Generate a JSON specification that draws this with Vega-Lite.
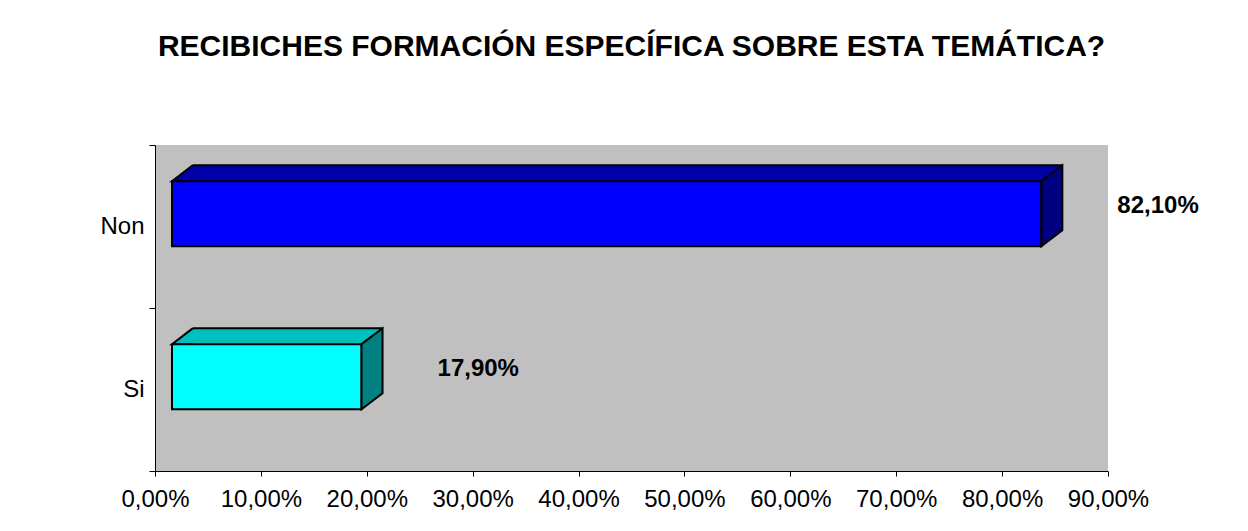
{
  "$schema": "https://vega.github.io/schema/vega-lite/v6.json",
  "autosize": "none",
  "width": 953,
  "height": 326,
  "padding": {"left": 155, "top": 145, "right": 140, "bottom": 60},
  "background": "white",
  "title": {
    "text": "RECIBICHES FORMACIÓN ESPECÍFICA SOBRE ESTA TEMÁTICA?",
    "anchor": "middle",
    "frame": "group",
    "baseline": "alphabetic",
    "offset": 47,
    "font": "Liberation Sans",
    "fontSize": 30,
    "fontWeight": "bold",
    "color": "black"
  },
  "data": {"values": [
    {"cat": "Non", "value": 0.821},
    {"cat": "Si", "value": 0.179}
  ]},
  "layer": [
    {
      "mark": {"type": "bar", "height": {"band": 0.4}, "xOffset": 38, "x2Offset": 38, "yOffset": -28.75},
      "encoding": {
        "x": {"field": "value", "type": "quantitative",
          "scale": {"domain": [0, 0.9], "nice": false, "zero": true},
          "axis": {"values": [0, 0.1, 0.2, 0.3, 0.4, 0.5, 0.6, 0.7, 0.8, 0.9], "format": ".2%", "title": null, "grid": false,
            "tickSize": 5, "labelPadding": 11, "labelFontSize": 24, "labelFont": "Liberation Sans", "labelColor": "black",
            "domainColor": "black", "tickColor": "black", "labelFlush": false, "labelOverlap": false}},
        "y": {"field": "cat", "type": "nominal",
          "scale": {"domain": ["Non", "Si"], "paddingInner": 0, "paddingOuter": 0},
          "axis": {"title": null, "tickBand": "extent", "tickSize": 6, "labelPadding": 5, "labelFontSize": 24,
            "labelFont": "Liberation Sans", "labelColor": "black", "domainColor": "black", "tickColor": "black", "grid": false}},
        "fill": {"field": "cat", "type": "nominal", "scale": {"domain": ["Non", "Si"], "range": ["#0000AA", "#00BFBF"]}, "legend": null}
      }
    },
    {
      "mark": {"type": "rule", "stroke": "black", "strokeWidth": 2, "xOffset": 38, "x2Offset": 38, "yOffset": -61.35},
      "encoding": {
        "x": {"field": "value", "type": "quantitative"},
        "x2": {"datum": 0},
        "y": {"field": "cat", "type": "nominal"}
      }
    },
    {
      "mark": {"type": "point", "shape": "M21,0L0,0L21,-16", "size": 4, "filled": true, "opacity": 1,
        "stroke": "black", "strokeWidth": 2, "xOffset": 17, "yOffset": -45.35},
      "encoding": {
        "x": {"datum": 0, "type": "quantitative"},
        "y": {"field": "cat", "type": "nominal"},
        "fill": {"field": "cat", "type": "nominal", "scale": {"domain": ["Non", "Si"], "range": ["#0000AA", "#00BFBF"]}, "legend": null}
      }
    },
    {
      "mark": {"type": "bar", "height": {"band": 0.4}, "xOffset": 17, "x2Offset": 17, "yOffset": -12.75,
        "stroke": "black", "strokeWidth": 2},
      "encoding": {
        "x": {"field": "value", "type": "quantitative"},
        "y": {"field": "cat", "type": "nominal"},
        "fill": {"field": "cat", "type": "nominal", "scale": {"domain": ["Non", "Si"], "range": ["#0000FF", "#00FFFF"]}, "legend": null}
      }
    },
    {
      "mark": {"type": "point", "shape": "M0,0L21,-16L21,49.2L0,65.2Z", "size": 4, "filled": true, "opacity": 1,
        "stroke": "black", "strokeWidth": 2, "xOffset": 17, "yOffset": -45.35},
      "encoding": {
        "x": {"field": "value", "type": "quantitative"},
        "y": {"field": "cat", "type": "nominal"},
        "fill": {"field": "cat", "type": "nominal", "scale": {"domain": ["Non", "Si"], "range": ["#000080", "#008080"]}, "legend": null}
      }
    },
    {
      "mark": {"type": "text", "align": "left", "baseline": "middle", "xOffset": 93, "yOffset": -21,
        "font": "Liberation Sans", "fontSize": 24, "fontWeight": "bold", "color": "black"},
      "encoding": {
        "x": {"field": "value", "type": "quantitative"},
        "y": {"field": "cat", "type": "nominal"},
        "text": {"field": "value", "type": "quantitative", "format": ".2%"}
      }
    }
  ],
  "resolve": {"scale": {"fill": "independent"}},
  "config": {
    "locale": {"number": {"decimal": ",", "thousands": ".", "grouping": [3], "currency": ["", " €"]}},
    "view": {"stroke": null, "fill": "#C0C0C0"},
    "font": "Liberation Sans"
  }
}
